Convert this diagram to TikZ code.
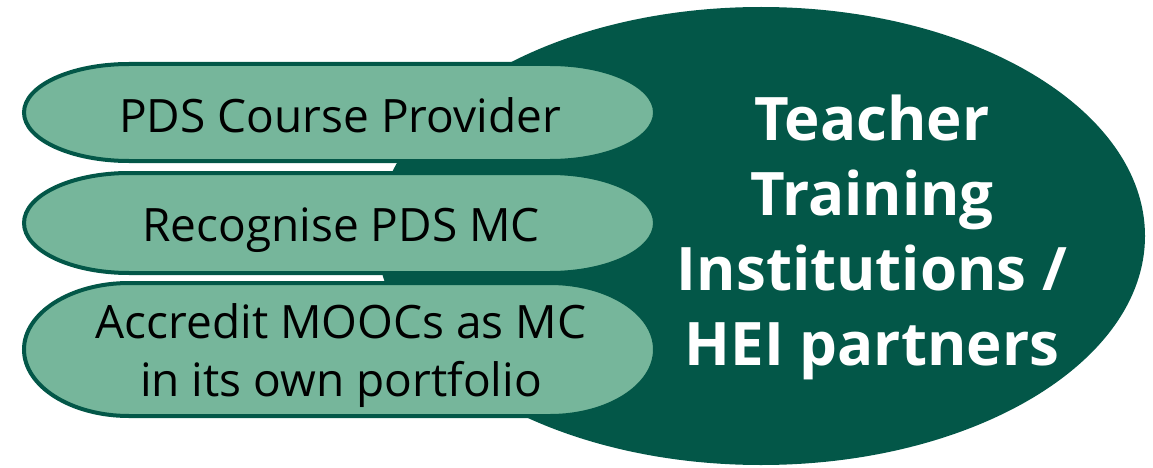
\documentclass[tikz,border=0pt]{standalone}
\usepackage{fontspec}
\setmainfont{Open Sans}
\usetikzlibrary{positioning}
\definecolor{ttidark}{RGB}{3,87,72}
\definecolor{ttilight}{RGB}{118,182,155}
\tikzstyle{pill} = [draw=ttidark, fill=ttilight, line width=4pt]
\tikzstyle{role} = [font=\fontsize{46}{58}\selectfont, align=center, text=black, inner sep=0pt]
\tikzstyle{partner} = [font=\fontsize{60}{75}\bfseries\selectfont, align=center, text=white, inner sep=0pt]

\begin{document}
\begin{tikzpicture}[x=1pt, y=-1pt]
    \useasboundingbox (0,0) rectangle (1153,468);
    % big partner ellipse
    \fill[ttidark] (761,236) ellipse [x radius=384, y radius=229];

    % the three roles
    \path[pill] (129,64) -- (550,64) arc[start angle=-90, end angle=90, x radius=105, y radius=48.5]
        -- (129,161) arc[start angle=90, end angle=270, x radius=105, y radius=48.5] -- cycle;
    \path[pill] (129,173) -- (550,173) arc[start angle=-90, end angle=90, x radius=105, y radius=50]
        -- (129,273) arc[start angle=90, end angle=270, x radius=105, y radius=50] -- cycle;
    \path[pill] (129,283) -- (550,283) arc[start angle=-90, end angle=90, x radius=105, y radius=66.5]
        -- (129,416) arc[start angle=90, end angle=270, x radius=105, y radius=66.5] -- cycle;

    \node[role, anchor=base] (provider) at (340,132) {PDS Course Provider};
    \node[role, anchor=base] (recognise) at (341,241) {Recognise PDS MC};
    \node[role] (accredit) at (341,356) {Accredit MOOCs as MC\\in its own portfolio};

    \node[partner] (tti) at (872,237) {Teacher\\Training\\Institutions /\\HEI partners};
\end{tikzpicture}
\end{document}
